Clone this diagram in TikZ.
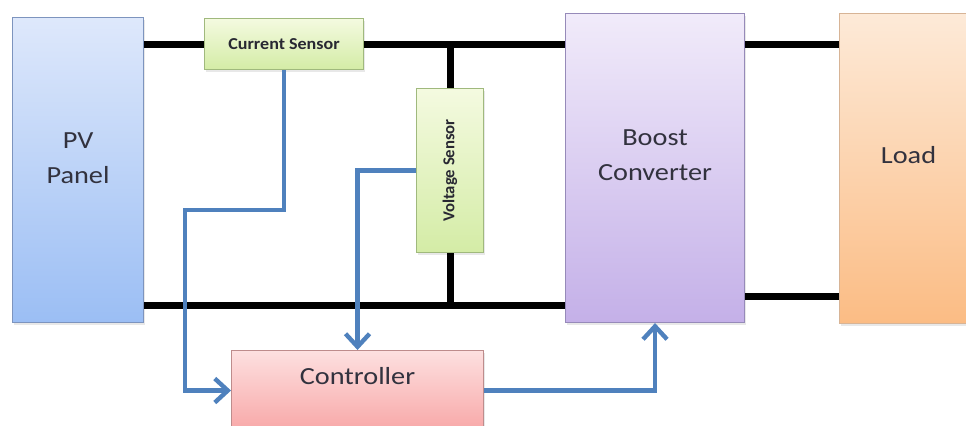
\documentclass[tikz,border=0pt]{standalone}
\usepackage{fontspec}
\setmainfont{Carlito}
\usepackage{tikz}
\usetikzlibrary{arrows.meta, positioning, calc, shadows}
\definecolor{pvtop}{RGB}{222,232,251}
\definecolor{pvbot}{RGB}{155,190,244}
\definecolor{pvedge}{RGB}{125,148,190}
\definecolor{sentop}{RGB}{244,250,224}
\definecolor{senbot}{RGB}{212,236,166}
\definecolor{senedge}{RGB}{160,185,125}
\definecolor{bsttop}{RGB}{241,235,250}
\definecolor{bstbot}{RGB}{196,176,232}
\definecolor{bstedge}{RGB}{150,138,185}
\definecolor{ldtop}{RGB}{253,234,216}
\definecolor{ldbot}{RGB}{251,188,132}
\definecolor{ldedge}{RGB}{215,180,150}
\definecolor{cttop}{RGB}{253,224,224}
\definecolor{ctbot}{RGB}{248,168,168}
\definecolor{ctedge}{RGB}{190,140,140}
\definecolor{sigblue}{RGB}{79,129,189}
\definecolor{txtdark}{RGB}{50,50,62}
\tikzset{
  block/.style={rectangle, line width=0.6pt, anchor=north west,
    drop shadow={opacity=0.18, shadow xshift=0.3mm, shadow yshift=-0.5mm}},
  pvblock/.style={block, draw=pvedge, top color=pvtop, bottom color=pvbot},
  senblock/.style={block, draw=senedge, top color=sentop, bottom color=senbot},
  bstblock/.style={block, draw=bstedge, top color=bsttop, bottom color=bstbot},
  ldblock/.style={block, draw=ldedge, top color=ldtop, bottom color=ldbot},
  ctblock/.style={block, draw=ctedge, top color=cttop, bottom color=ctbot},
  bigtext/.style={font=\fontsize{14}{20}\selectfont, text=txtdark,
    align=center, xscale=1.15},
  sentext/.style={font=\fontsize{9.5}{11}\selectfont\bfseries,
    text=txtdark!80!black},
  wire/.style={line width=4pt, color=black},
  sigarrow/.style={-{Straight Barb[length=2.6mm, width=4.8mm]},
    line width=2.5pt, color=sigblue}
}

\begin{document}
\begin{tikzpicture}[x=0.2mm, y=-0.2mm]
  \useasboundingbox (0,0) rectangle (966,425);
  \clip (0,0) rectangle (966,425);

  % blocks
  \node[pvblock, minimum width=26.2mm, minimum height=61mm,
    label={[bigtext, yshift=2.4mm]center:PV\\Panel}] (pv) at (12,17) {};
  \node[senblock, minimum width=31.8mm, minimum height=10.2mm,
    label={[sentext, xscale=1.08]center:Current Sensor}] (cs) at (204,18) {};
  \node[senblock, minimum width=13.4mm, minimum height=32.8mm,
    label={[sentext, rotate=90]center:Voltage Sensor}] (vs) at (416,88) {};
  \node[bstblock, minimum width=35.8mm, minimum height=61.8mm,
    label={[bigtext, yshift=2.6mm]center:Boost\\Converter}] (bst) at (565,13) {};
  \node[ldblock, minimum width=27.6mm, minimum height=62mm,
    label={[bigtext, yshift=2.6mm]center:Load}] (ld) at (839,13) {};
  \node[ctblock, minimum width=50.4mm, minimum height=16mm,
    label={[bigtext, yshift=2.8mm]center:Controller}] (ctrl) at (231,350) {};

  % power lines
  \coordinate (pvlo) at ($(pv.south east)+(0,-18)$);
  \coordinate (bstlo) at ($(bst.south east)+(0,-27)$);
  \draw[wire] (pv.east |- cs.west) -- (cs.west);
  \draw[wire] (cs.east) -- (cs.east -| bst.west);
  \draw[wire] (cs.east -| bst.east) -- (cs.east -| ld.west);
  \draw[wire] (pvlo) -- (pvlo -| bst.west);
  \draw[wire] (bstlo) -- (bstlo -| ld.west);
  \draw[wire] (vs.north) -- (vs.north |- cs.east);
  \draw[wire] (vs.south) -- (vs.south |- pvlo);

  % sensing and control
  \coordinate (bend) at (185,210);
  \draw[sigarrow] (cs.south) |- (bend) |- (ctrl.west);
  \draw[sigarrow] (vs.west) -| (ctrl.north);
  \draw[sigarrow] (ctrl.east) -| (bst.south);
\end{tikzpicture}
\end{document}
